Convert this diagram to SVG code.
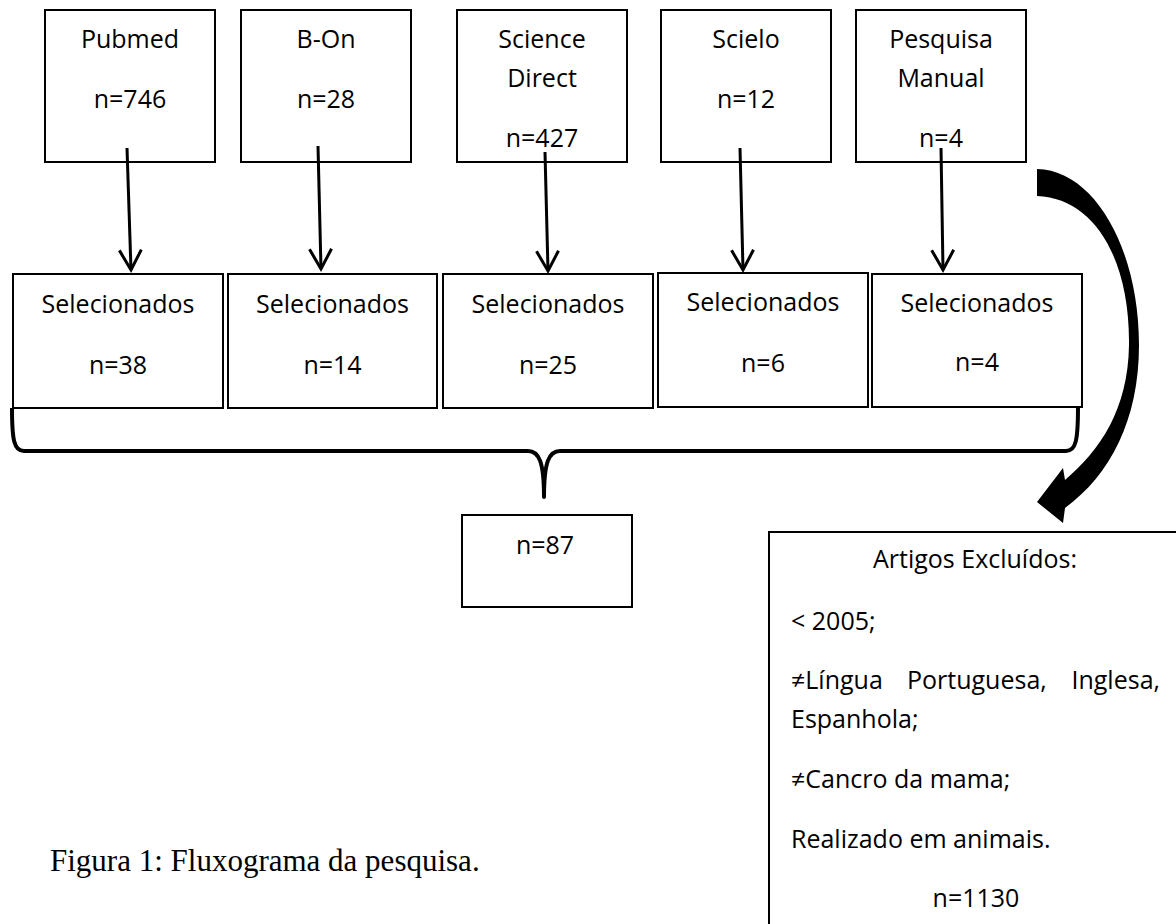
<svg xmlns="http://www.w3.org/2000/svg" width="1176" height="924" viewBox="0 0 1176 924">
<style>
.box{fill:#fff;stroke:#000;stroke-width:2}
.t{font-family:"Open Sans","Liberation Sans",sans-serif;font-size:25px;fill:#000}
.c{text-anchor:middle}
.ln{stroke:#000;stroke-width:3;fill:none}
.cap{font-family:"Liberation Serif","Times New Roman",serif;font-size:31px;fill:#000}
</style>
<defs>
<marker id="ah" markerUnits="userSpaceOnUse" markerWidth="30" markerHeight="30" viewBox="-24 -15 28 30" refX="0" refY="0" orient="auto" overflow="visible">
<path d="M -20 -11 L 0 0 L -20 11" fill="none" stroke="#000" stroke-width="3" stroke-linejoin="miter"/>
</marker>
</defs>
<rect width="1176" height="924" fill="#fff"/>

<g id="pubmed">
<rect class="box" x="45" y="10" width="170" height="152"/>
<text class="t c" x="130" y="48">Pubmed</text>
<text class="t c" x="130" y="108">n=746</text>
</g>
<g id="bon">
<rect class="box" x="241" y="10" width="170" height="152"/>
<text class="t c" x="326" y="48">B-On</text>
<text class="t c" x="326" y="108">n=28</text>
</g>
<g id="sciencedirect">
<rect class="box" x="457" y="10" width="170" height="152"/>
<text class="t c" x="542" y="48">Science</text>
<text class="t c" x="542" y="87">Direct</text>
<text class="t c" x="542" y="147">n=427</text>
</g>
<g id="scielo">
<rect class="box" x="661" y="10" width="170" height="152"/>
<text class="t c" x="746" y="48">Scielo</text>
<text class="t c" x="746" y="108">n=12</text>
</g>
<g id="manual">
<rect class="box" x="856" y="10" width="170" height="152"/>
<text class="t c" x="941" y="48">Pesquisa</text>
<text class="t c" x="941" y="87">Manual</text>
<text class="t c" x="941" y="147">n=4</text>
</g>

<g id="sel1">
<rect class="box" x="13" y="274" width="210" height="134"/>
<text class="t c" x="118" y="313">Selecionados</text>
<text class="t c" x="118" y="374">n=38</text>
</g>
<g id="sel2">
<rect class="box" x="228" y="274" width="209" height="134"/>
<text class="t c" x="332.5" y="313">Selecionados</text>
<text class="t c" x="332.5" y="374">n=14</text>
</g>
<g id="sel3">
<rect class="box" x="443" y="274" width="210" height="134"/>
<text class="t c" x="548" y="313">Selecionados</text>
<text class="t c" x="548" y="374">n=25</text>
</g>
<g id="sel4">
<rect class="box" x="658" y="273" width="210" height="134"/>
<text class="t c" x="763" y="311">Selecionados</text>
<text class="t c" x="763" y="372">n=6</text>
</g>
<g id="sel5">
<rect class="box" x="872" y="274" width="210" height="133"/>
<text class="t c" x="977" y="312">Selecionados</text>
<text class="t c" x="977" y="371">n=4</text>
</g>

<g id="total">
<rect class="box" x="462" y="515" width="170" height="92"/>
<text class="t c" x="545" y="554">n=87</text>
</g>

<g id="excluded">
<rect class="box" x="769" y="532" width="430" height="420"/>
<text class="t c" x="975" y="568">Artigos Excluídos:</text>
<text class="t" x="791" y="630">&lt; 2005;</text>
<text class="t" x="791" y="689">≠Língua</text>
<text class="t" x="907" y="689">Portuguesa,</text>
<text class="t" x="1160" y="689" text-anchor="end">Inglesa,</text>
<text class="t" x="791" y="728">Espanhola;</text>
<text class="t" x="791" y="788">≠Cancro da mama;</text>
<text class="t" x="791" y="848">Realizado em animais.</text>
<text class="t c" x="976" y="907">n=1130</text>
</g>

<g id="connectors">
<line class="ln" x1="127" y1="148" x2="131" y2="270" marker-end="url(#ah)"/>
<line class="ln" x1="318" y1="146" x2="321" y2="269" marker-end="url(#ah)"/>
<line class="ln" x1="545" y1="152" x2="548" y2="271" marker-end="url(#ah)"/>
<line class="ln" x1="740" y1="148" x2="743" y2="270" marker-end="url(#ah)"/>
<line class="ln" x1="941" y1="148" x2="943" y2="270" marker-end="url(#ah)"/>
<path d="M 12 408 C 12 440, 14 451, 24 451 L 528 451 C 539 451, 544 462, 544 497 C 544 462, 549 451, 560 451 L 1066 451 C 1076 451, 1078 440, 1078 407" fill="none" stroke="#000" stroke-width="4" stroke-linejoin="round"/>
<path d="M 1037 169 C 1095 170, 1139 250, 1139 345 C 1139 420, 1110 475, 1065 508 L 1063 523 L 1037 502 L 1063 468 L 1065 480 C 1100 450, 1128 410, 1129 345 C 1130 260, 1095 198, 1037 196 Z" fill="#000"/>
</g>

<text class="cap" x="50" y="871">Figura 1: Fluxograma da pesquisa.</text>
</svg>
